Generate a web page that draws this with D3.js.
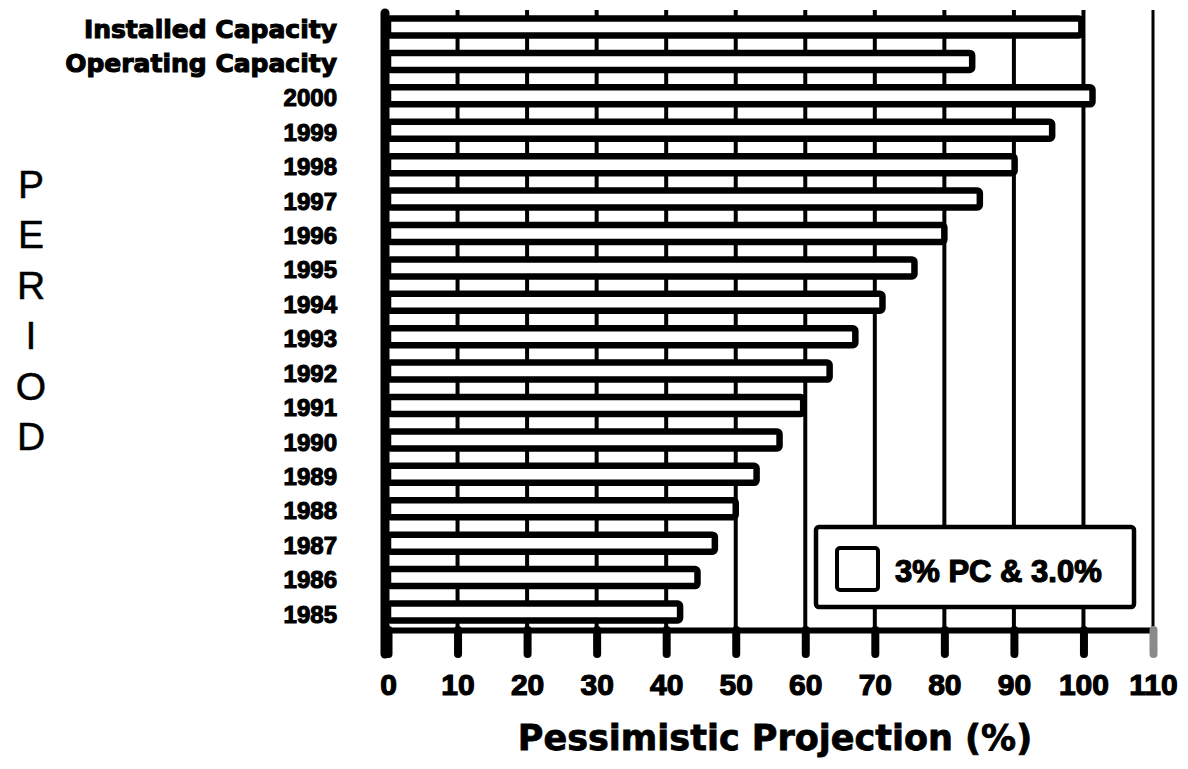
<!DOCTYPE html>
<html>
<head>
<meta charset="utf-8">
<script src="https://cdn.jsdelivr.net/npm/d3@7"></script>
<style>
body { margin: 0; background: #fff; }
</style>
</head>
<body>
<div id="chart"></div>
<script>
// data
const periods = ["Installed Capacity", "Operating Capacity", "2000", "1999", "1998", "1997", "1996",
    "1995", "1994", "1993", "1992", "1991", "1990", "1989", "1988", "1987", "1986", "1985"];
const projection = [99.7, 84, 101.3, 95.5, 90.1, 85.1, 80.0, 75.7, 71.1, 67.2, 63.5, 59.7,
    56.3, 53.0, 50.0, 47.0, 44.5, 42.0];
const xTicks = [0, 10, 20, 30, 40, 50, 60, 70, 80, 90, 100, 110];
const seriesName = "3% PC & 3.0%";
const yTitle = "PERIOD";
const xTitle = "Pessimistic Projection (%)";

const width = 1188, height = 769;
const plotTop = 10, axisY = 630;

const svg = d3.select('#chart').append('svg')
    .attr('width', width)
    .attr('height', height);

const x = d3.scaleLinear().domain([0, 110]).range([388, 1153]);
const y = d3.scalePoint().domain(periods).range([27, 612]);

// vertical grid lines, sitting under the bars
svg.append('g')
    .selectAll('line')
    .data(xTicks.filter(d => d > 0))
    .enter()
    .append('line')
    .attr('x1', d => x(d))
    .attr('x2', d => x(d))
    .attr('y1', plotTop)
    .attr('y2', axisY)
    .attr('stroke', '#000')
    .attr('stroke-width', d => d === 110 ? 3 : 4);

// bars
const barH = 17;
svg.append('g')
    .selectAll('rect')
    .data(periods)
    .enter()
    .append('rect')
    .attr('x', x(0))
    .attr('y', d => y(d) - barH / 2)
    .attr('width', (d, i) => x(projection[i]) - x(0))
    .attr('height', barH)
    .attr('rx', 2.5)
    .attr('fill', '#fff')
    .attr('stroke', '#000')
    .attr('stroke-width', 6.5);

// left axis line
svg.append('line')
    .attr('x1', 385).attr('x2', 385)
    .attr('y1', plotTop + 3).attr('y2', 654)
    .attr('stroke', '#000')
    .attr('stroke-width', 9)
    .attr('stroke-linecap', 'round');

// bottom axis
const xAxis = svg.append('g')
    .attr('transform', 'translate(0,' + axisY + ')')
    .call(d3.axisBottom(x).tickValues(xTicks).tickSize(24).tickSizeOuter(0).tickPadding(20));

xAxis.select('.domain')
    .attr('stroke', '#000')
    .attr('stroke-width', 6);

xAxis.selectAll('.tick line')
    .attr('stroke', d => d === 110 ? '#8a8a8a' : '#000')
    .attr('stroke-width', 8)
    .attr('stroke-linecap', 'round');

xAxis.selectAll('.tick text')
    .attr('font-family', 'Liberation Sans, Arial, sans-serif')
    .attr('font-weight', 'bold')
    .attr('font-size', 30)
    .attr('fill', '#000')
    .attr('stroke', '#000')
    .attr('stroke-width', 1.2);

// category labels
const yAxis = svg.append('g')
    .attr('transform', 'translate(' + x(0) + ',0)')
    .call(d3.axisLeft(y).tickSize(0).tickPadding(51));

yAxis.select('.domain').remove();

yAxis.selectAll('.tick text')
    .attr('font-family', d => isNaN(+d) ? 'DejaVu Sans, sans-serif' : 'Liberation Sans, Arial, sans-serif')
    .attr('font-size', d => isNaN(+d) ? 25 : 24)
    .attr('font-weight', 'bold')
    .attr('fill', '#000')
    .attr('stroke', '#000')
    .attr('stroke-width', 1.1)
    .attr('dy', '0.42em');

// vertical title, one letter per line
svg.append('g')
    .selectAll('text')
    .data(yTitle.split(''))
    .enter()
    .append('text')
    .attr('x', 31)
    .attr('y', (d, i) => 198 + i * 50.4)
    .attr('text-anchor', 'middle')
    .attr('font-family', 'Liberation Sans, Arial, sans-serif')
    .attr('font-size', 39)
    .attr('fill', '#000')
    .attr('stroke', '#000')
    .attr('stroke-width', 0.5)
    .text(d => d);

// x title
svg.append('text')
    .attr('x', 775)
    .attr('y', 750)
    .attr('text-anchor', 'middle')
    .attr('font-family', 'DejaVu Sans, sans-serif')
    .attr('font-weight', 'bold')
    .attr('font-size', 35)
    .attr('fill', '#000')
    .attr('stroke', '#000')
    .attr('stroke-width', 0.8)
    .text(xTitle);

// legend
const legend = svg.append('g');
legend.append('rect')
    .attr('x', 816).attr('y', 527)
    .attr('width', 318).attr('height', 80)
    .attr('rx', 3)
    .attr('fill', '#fff')
    .attr('stroke', '#000')
    .attr('stroke-width', 4.5);
legend.append('rect')
    .attr('x', 837).attr('y', 548)
    .attr('width', 41).attr('height', 42)
    .attr('rx', 3)
    .attr('fill', '#fff')
    .attr('stroke', '#000')
    .attr('stroke-width', 4);
legend.append('text')
    .attr('x', 895)
    .attr('y', 582)
    .attr('font-family', 'Liberation Sans, Arial, sans-serif')
    .attr('font-weight', 'bold')
    .attr('font-size', 31)
    .attr('fill', '#000')
    .attr('stroke', '#000')
    .attr('stroke-width', 1.2)
    .text(seriesName);
</script>
</body>
</html>
